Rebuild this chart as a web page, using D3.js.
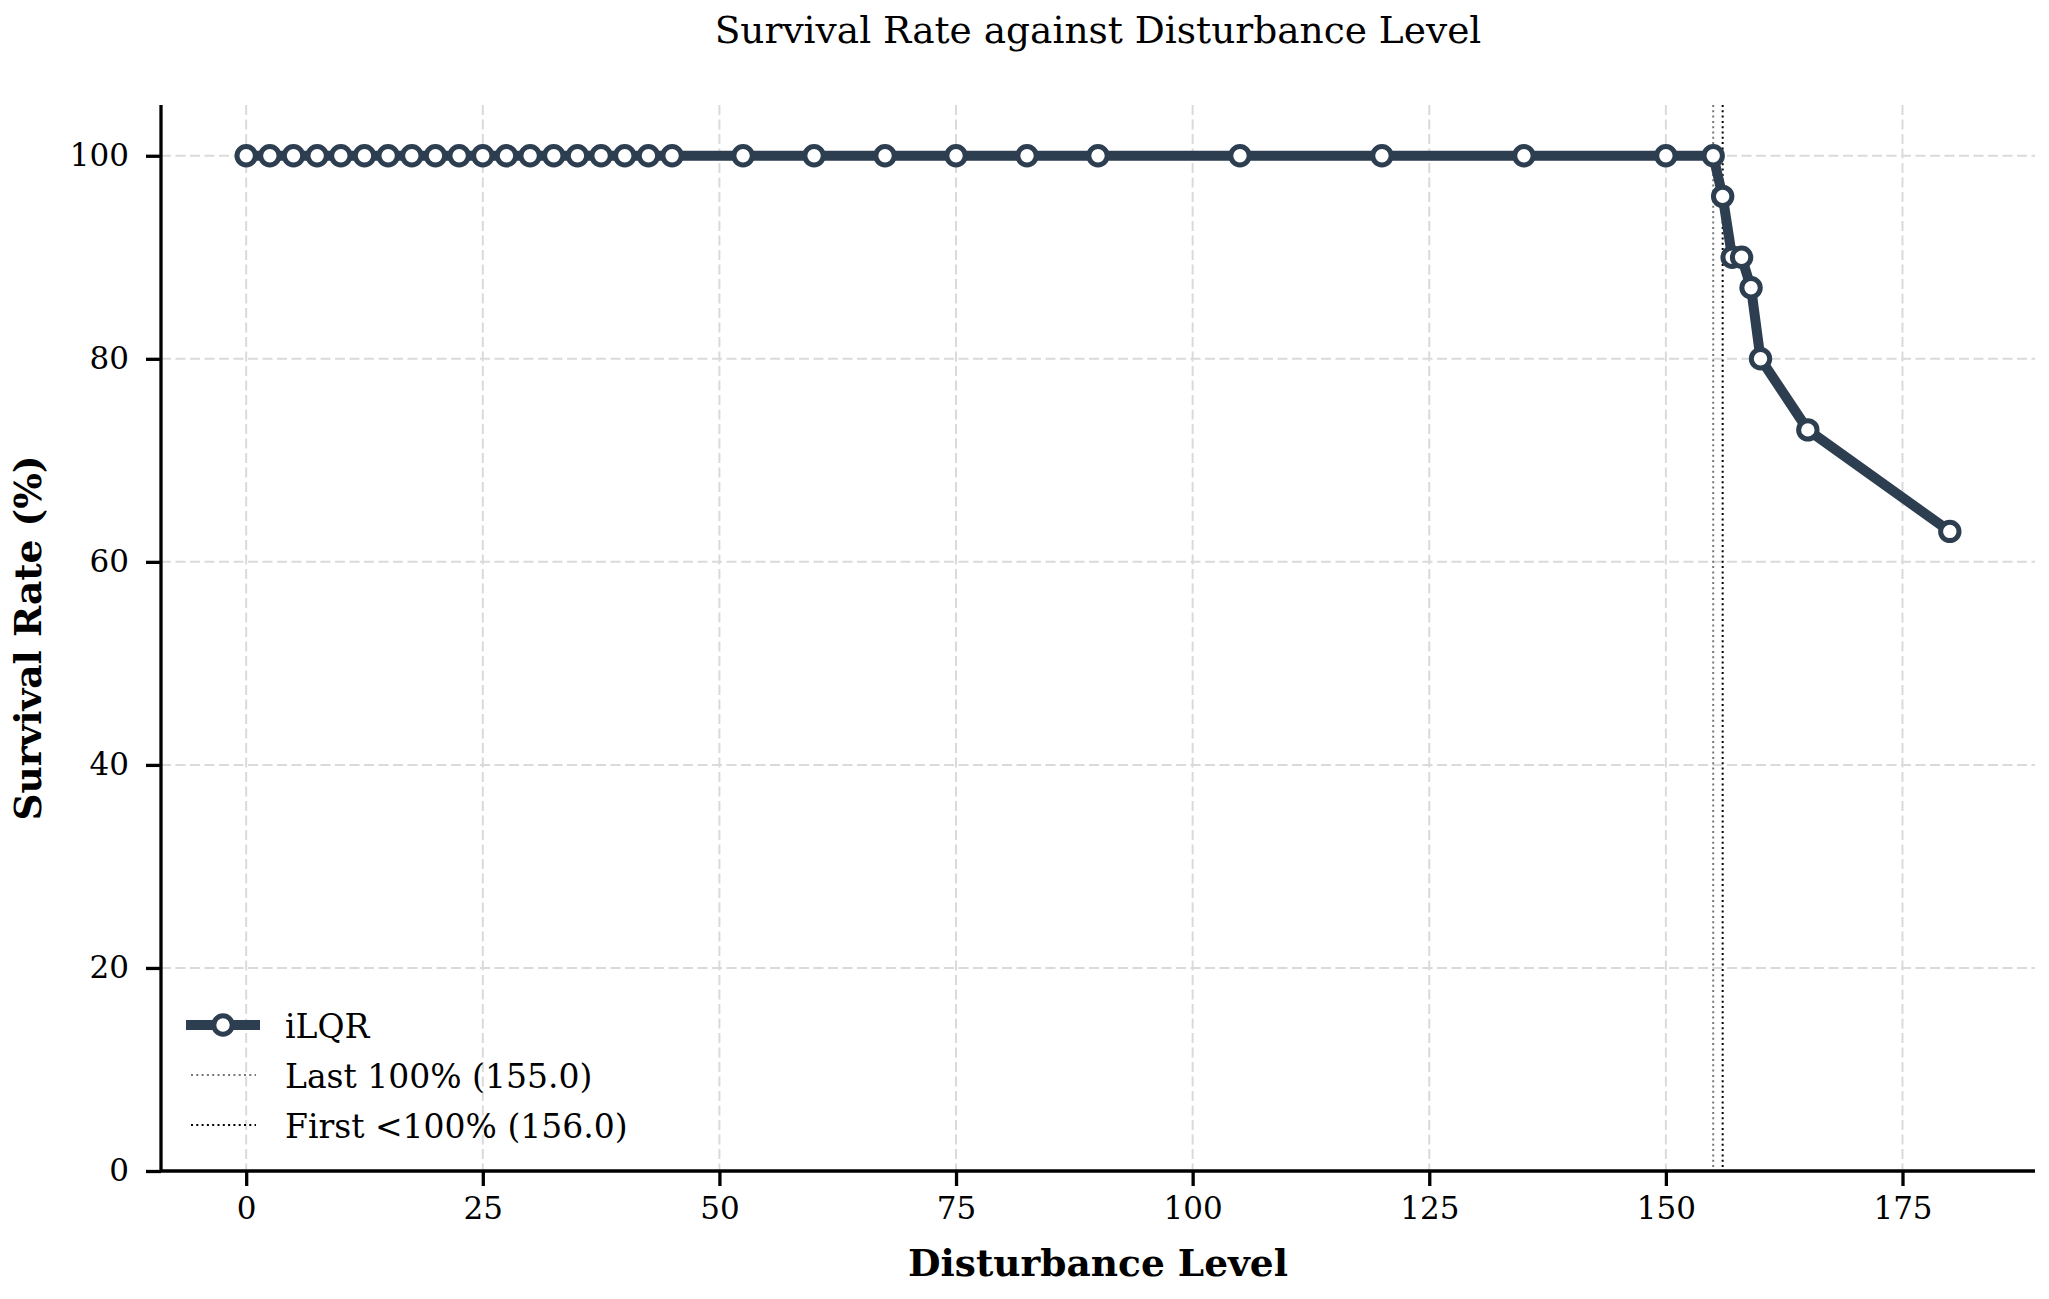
<!DOCTYPE html>
<html>
<head>
<meta charset="utf-8">
<script src="https://cdn.jsdelivr.net/npm/d3@7"></script>
<style>
  body { margin: 0; background: #fff; }
  svg { display: block; font-family: "DejaVu Serif", serif; }
</style>
</head>
<body>
<div id="chart"></div>
<script>
// disturbance levels and survival rates
var disturbance = [0, 2.5, 5, 7.5, 10, 12.5, 15, 17.5, 20, 22.5, 25, 27.5, 30, 32.5, 35, 37.5, 40, 42.5, 45,
                   52.5, 60, 67.5, 75, 82.5, 90, 105, 120, 135, 150, 155, 156, 157, 158, 159, 160, 165, 180];
var survival = [100, 100, 100, 100, 100, 100, 100, 100, 100, 100, 100, 100, 100, 100, 100, 100, 100, 100, 100,
                100, 100, 100, 100, 100, 100, 100, 100, 100, 100, 100, 96, 90, 90, 87, 80, 73, 63];
var xTicks = [0, 25, 50, 75, 100, 125, 150, 175];
var yTicks = [0, 20, 40, 60, 80, 100];
var lastFull = 155.0;
var firstDrop = 156.0;
var legendLabels = ["iLQR", "Last 100% (155.0)", "First <100% (156.0)"];

var svgWidth = 2049, svgHeight = 1299;
var margin = { top: 105, right: 14, bottom: 128, left: 161 };
var width = svgWidth - margin.left - margin.right;
var height = svgHeight - margin.top - margin.bottom;
var lineColor = "#2c3e50";

var svg = d3.select("#chart").append("svg")
    .attr("width", svgWidth)
    .attr("height", svgHeight);

var chartGroup = svg.append("g")
    .attr("transform", `translate(${margin.left}, ${margin.top})`);

var x = d3.scaleLinear().domain([-9, 189]).range([0, width]);
var y = d3.scaleLinear().domain([0, 105]).range([height, 0]);

// grid
chartGroup.selectAll(".vgrid").data(xTicks).enter().append("line")
    .attr("x1", d => x(d)).attr("x2", d => x(d))
    .attr("y1", 0).attr("y2", height)
    .attr("stroke", "#dadada").attr("stroke-width", 2)
    .attr("stroke-dasharray", "10,4.5");
chartGroup.selectAll(".hgrid").data(yTicks).enter().append("line")
    .attr("x1", 0).attr("x2", width)
    .attr("y1", d => y(d)).attr("y2", d => y(d))
    .attr("stroke", "#dadada").attr("stroke-width", 2)
    .attr("stroke-dasharray", "10,4.5");

// threshold lines
chartGroup.append("line")
    .attr("x1", x(lastFull)).attr("x2", x(lastFull))
    .attr("y1", 0).attr("y2", height)
    .attr("stroke", "#777").attr("stroke-width", 2)
    .attr("stroke-dasharray", "2,3.3");
chartGroup.append("line")
    .attr("x1", x(firstDrop)).attr("x2", x(firstDrop))
    .attr("y1", 0).attr("y2", height)
    .attr("stroke", "#000").attr("stroke-width", 2)
    .attr("stroke-dasharray", "2,3.3");

// data line
var pts = disturbance.map((d, i) => [d, survival[i]]);
chartGroup.append("path")
    .datum(pts)
    .attr("fill", "none")
    .attr("stroke", lineColor)
    .attr("stroke-width", 10)
    .attr("stroke-linejoin", "round")
    .attr("d", d3.line().x(d => x(d[0])).y(d => y(d[1])));

chartGroup.selectAll(".pt").data(pts).enter().append("circle")
    .attr("cx", d => x(d[0]))
    .attr("cy", d => y(d[1]))
    .attr("r", 9.2)
    .attr("fill", "#fff")
    .attr("stroke", lineColor)
    .attr("stroke-width", 5);

// axes
var xAxis = d3.axisBottom(x).tickValues(xTicks).tickSize(15).tickPadding(11).tickFormat(d3.format("d"));
var yAxis = d3.axisLeft(y).tickValues(yTicks).tickSize(15).tickPadding(17).tickFormat(d3.format("d"));

var gx = chartGroup.append("g")
    .attr("transform", `translate(0, ${height})`)
    .call(xAxis);
var gy = chartGroup.append("g").call(yAxis);

[gx, gy].forEach(function(g) {
    g.select(".domain").attr("stroke", "#000").attr("stroke-width", 3.3);
    g.selectAll(".tick line").attr("stroke", "#000").attr("stroke-width", 3.3);
    g.selectAll(".tick text")
        .attr("fill", "#000")
        .style("font-family", "DejaVu Serif")
        .style("font-size", "31px");
});
// matplotlib-style spine: bottom spans full width, no end ticks
gx.select(".domain").attr("d", `M0,0H${width}`);
gy.select(".domain").attr("d", `M0,0V${height}`);

// labels
svg.append("text")
    .attr("x", margin.left + width / 2)
    .attr("y", 43)
    .attr("text-anchor", "middle")
    .style("font-size", "37.5px")
    .text("Survival Rate against Disturbance Level");

svg.append("text")
    .attr("x", margin.left + width / 2)
    .attr("y", 1276)
    .attr("text-anchor", "middle")
    .style("font-size", "37.5px")
    .style("font-weight", "bold")
    .text("Disturbance Level");

svg.append("text")
    .attr("transform", `translate(41, ${margin.top + height / 2}) rotate(-90)`)
    .attr("text-anchor", "middle")
    .style("font-size", "37.5px")
    .style("font-weight", "bold")
    .text("Survival Rate (%)");

// legend
var legend = svg.append("g");
var rowY = [1025, 1075, 1125];

legend.append("line")
    .attr("x1", 186).attr("x2", 260)
    .attr("y1", rowY[0]).attr("y2", rowY[0])
    .attr("stroke", lineColor).attr("stroke-width", 10);
legend.append("circle")
    .attr("cx", 223).attr("cy", rowY[0]).attr("r", 9.2)
    .attr("fill", "#fff").attr("stroke", lineColor).attr("stroke-width", 5);
legend.append("line")
    .attr("x1", 191).attr("x2", 256)
    .attr("y1", rowY[1]).attr("y2", rowY[1])
    .attr("stroke", "#777").attr("stroke-width", 2)
    .attr("stroke-dasharray", "2,3.3");
legend.append("line")
    .attr("x1", 191).attr("x2", 256)
    .attr("y1", rowY[2]).attr("y2", rowY[2])
    .attr("stroke", "#000").attr("stroke-width", 2)
    .attr("stroke-dasharray", "2,3.3");

legend.selectAll(".ltext").data(legendLabels).enter().append("text")
    .attr("x", 285)
    .attr("y", (d, i) => rowY[i] + 13)
    .style("font-size", "33px")
    .text(d => d);
</script>
</body>
</html>
